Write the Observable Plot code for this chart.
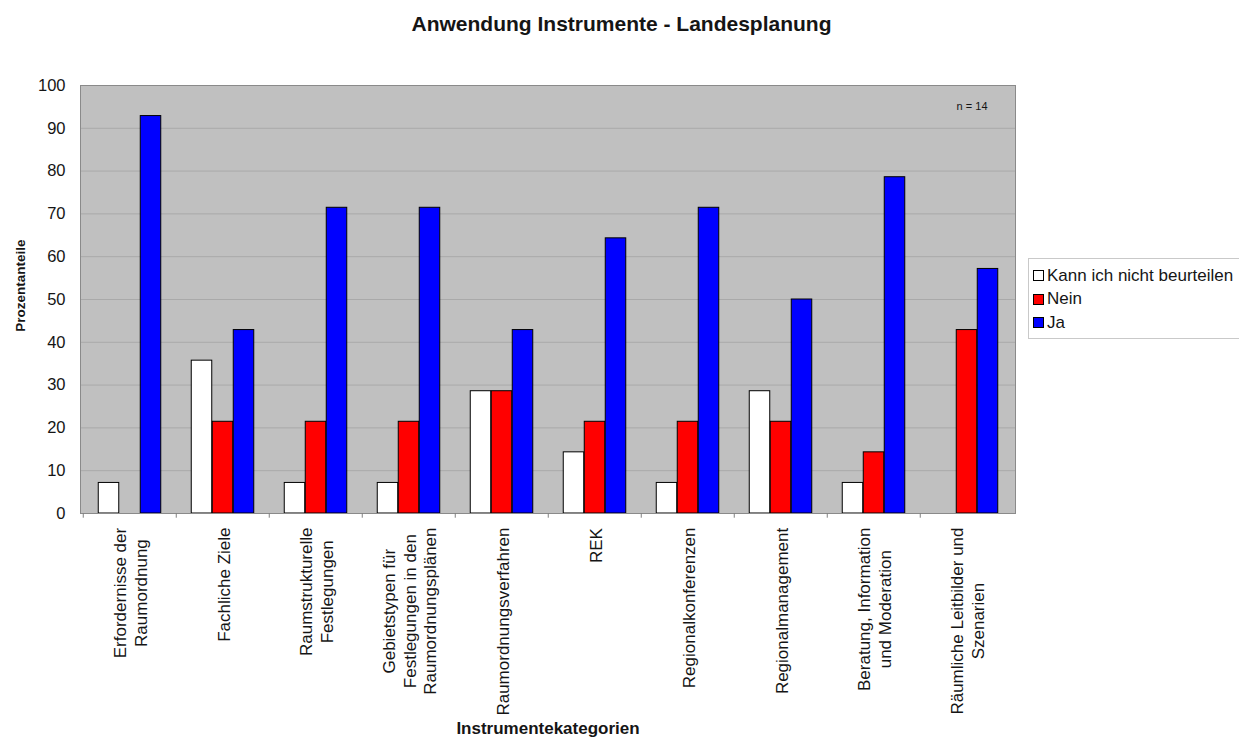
<!DOCTYPE html>
<html>
<head>
<meta charset="utf-8">
<script src="https://cdn.jsdelivr.net/npm/d3@7"></script>
<script src="https://cdn.jsdelivr.net/npm/@observablehq/plot@0.6"></script>
<style>
  html, body { margin: 0; padding: 0; background: #fff; overflow: hidden; }
  body { font-family: "Liberation Sans", Arial, sans-serif; color: #151515; }
  #wrap { position: relative; width: 1239px; height: 747px; }
  #title { position: absolute; left: 0; width: 1239px; top: 12px; text-align: center;
           font-weight: bold; font-size: 21px; line-height: 24px; margin-left: 2px; }
  #legend { position: absolute; left: 1028px; top: 258px; width: 240px; height: 81px;
            border: 1px solid #c9c9c9; box-sizing: border-box; padding: 5px 0 0 4px;
            font-size: 17px; }
  .item { display: flex; align-items: center; height: 23.5px; }
  .sw { width: 11px; height: 11px; border: 1px solid #000; box-sizing: border-box; margin-right: 3px; }
</style>
</head>
<body>
<div id="wrap">
  <div id="title">Anwendung Instrumente - Landesplanung</div>
  <div id="legend"></div>
</div>
<script>
// Instrument categories (line breaks as shown under the axis)
const categories = [
  "Erfordernisse der\nRaumordnung",
  "Fachliche Ziele",
  "Raumstrukturelle\nFestlegungen",
  "Gebietstypen für\nFestlegungen in den\nRaumordnungsplänen",
  "Raumordnungsverfahren",
  "REK",
  "Regionalkonferenzen",
  "Regionalmanagement",
  "Beratung, Information\nund Moderation",
  "Räumliche Leitbilder und\nSzenarien"
];
const series = ["Kann ich nicht beurteilen", "Nein", "Ja"];
// Shares in percent (n = 14)
const kann = [7.14, 35.71, 7.14, 7.14, 28.57, 14.29, 7.14, 28.57, 7.14, 0];
const nein = [0, 21.43, 21.43, 21.43, 28.57, 21.43, 21.43, 21.43, 14.29, 42.86];
const ja   = [92.86, 42.86, 71.43, 71.43, 42.86, 64.29, 71.43, 50, 78.57, 57.14];
const colors = ["#ffffff", "#ff0000", "#0000ff"];
const yTicks = [0, 10, 20, 30, 40, 50, 60, 70, 80, 90, 100];
const note = "n = 14";

const values = [kann, nein, ja];
const rows = series.flatMap((s, i) =>
  categories.map((c, j) => ({category: c, series: s, value: values[i][j]})));

const W = 1239, H = 747;
const mL = 80, mR = 224, mT = 85, mB = 234;
const band = (W - mL - mR) / categories.length;
const barW = 21;
const inset = (band - barW) / 2;

const bars = series.map((s, i) =>
  Plot.barY(rows.filter(d => d.series === s && d.value > 0), {
    x: "category", y: "value",
    fill: colors[i], stroke: "#000", strokeWidth: 1,
    insetLeft: inset, insetRight: inset, dx: (i - 1) * barW
  }));

const chart = Plot.plot({
  width: W, height: H,
  marginLeft: mL, marginRight: mR, marginTop: mT, marginBottom: mB,
  style: {fontFamily: "'Liberation Sans', Arial, sans-serif", fontSize: "16px", color: "#151515", background: "transparent"},
  x: {domain: categories, padding: 0, axis: null},
  y: {domain: [0, 100], axis: null},
  marks: [
    Plot.frame({fill: "#c0c0c0"}),
    Plot.gridY(yTicks, {stroke: "#a9a9a9", strokeOpacity: 1}),
    ...bars,
    Plot.ruleY([0], {stroke: "#808080"}),
    Plot.frame({stroke: "#8a8a8a"}),
    // small ticks at the category boundaries below the axis
    Plot.ruleX(categories, {x: d => d, dx: -band / 2, y1: 0, y2: -1.1, stroke: "#808080"}),
    Plot.axisY(yTicks, {tickSize: 0, tickPadding: 15, fontSize: 16.5, label: null}),
    Plot.text(categories, {
      x: d => d, text: d => d, frameAnchor: "bottom", dy: 14,
      rotate: -90, textAnchor: "middle", lineAnchor: "middle",
      lineHeight: 1.2, fontSize: 17
    }),
    Plot.text(["Prozentanteile"], {frameAnchor: "left", dx: -60, dy: -14, rotate: -90, textAnchor: "middle", fontWeight: "bold", fontSize: 13.5}),
    Plot.text(["Instrumentekategorien"], {frameAnchor: "bottom", dy: 220, fontWeight: "bold", fontSize: 17}),
    Plot.text([note], {frameAnchor: "top-right", dx: -28, dy: 17, textAnchor: "end", fontSize: 11})
  ]
});

const wrap = document.getElementById("wrap");
chart.style.position = "absolute";
chart.style.left = "0";
chart.style.top = "0";
wrap.insertBefore(chart, wrap.firstChild);

// Align each category label so its top edge sits just below the axis,
// with multiple lines centred on each other.
const labelSet = new Set(categories.map(c => c.replace(/\n/g, "")));
chart.querySelectorAll("text").forEach(t => {
  if (!labelSet.has(t.textContent)) return;
  const b = t.getBBox();
  const shift = -(b.x + b.width);
  t.setAttribute("transform", (t.getAttribute("transform") || "") + ` translate(${shift},0)`);
});

// Legend
const legend = document.getElementById("legend");
series.forEach((s, i) => {
  const item = document.createElement("div");
  item.className = "item";
  const sw = document.createElement("span");
  sw.className = "sw";
  sw.style.background = colors[i];
  item.appendChild(sw);
  item.appendChild(document.createTextNode(s));
  legend.appendChild(item);
});
</script>
</body>
</html>
